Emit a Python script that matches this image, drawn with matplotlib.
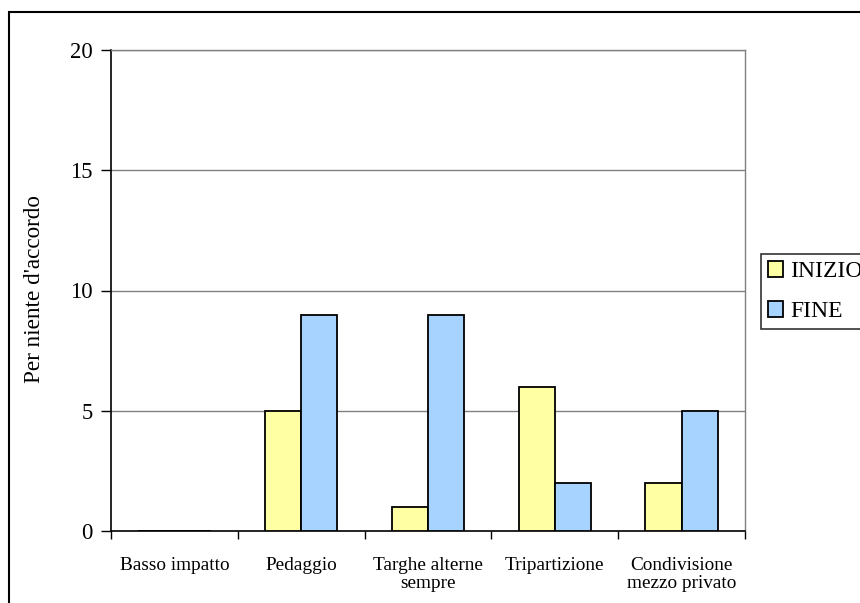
import matplotlib
matplotlib.use("Agg")
import matplotlib.pyplot as plt
import numpy as np
from matplotlib.patches import Rectangle, Patch

categories = ["Basso impatto", "Pedaggio", "Targhe alterne\nsempre",
              "Tripartizione", "Condivisione\nmezzo privato"]
inizio = [0, 5, 1, 6, 2]
fine = [0, 9, 9, 2, 5]
series_names = ["INIZIO", "FINE"]
y_ticks = [0, 5, 10, 15, 20]

col_inizio = "#FFFFA3"
col_fine = "#A6D3FF"

plt.rcParams["font.family"] = ["Liberation Serif", "DejaVu Serif"]

fig = plt.figure(figsize=(8.6, 6.03), dpi=100)
W, H = 860, 603
ax = fig.add_axes([111 / W, 1 - 531 / H, (745 - 111) / W, (531 - 50) / H])

x = np.arange(len(categories))
bw = 0.285
ax.bar(x - bw / 2, inizio, bw, color=col_inizio, edgecolor="black", linewidth=1.3, zorder=3)
ax.bar(x + bw / 2, fine, bw, color=col_fine, edgecolor="black", linewidth=1.3, zorder=3)

ax.set_xlim(-0.5, len(categories) - 0.5)
ax.set_ylim(0, 20)
ax.set_yticks(y_ticks)
ax.tick_params(axis="y", labelsize=16.3, length=7, width=1, direction="out", pad=6)
for v in y_ticks[1:]:
    ax.axhline(v, color="#808080", linewidth=1, zorder=1)

# category boundaries carry the tick marks, centres carry the labels
ax.set_xticks(np.arange(len(categories) + 1) - 0.5)
ax.set_xticklabels([])
ax.tick_params(axis="x", which="major", length=6, width=1, direction="out")
ax.set_xticks(x, minor=True)
ax.set_xticklabels(categories, minor=True, fontsize=13.9, linespacing=1.08)
ax.tick_params(axis="x", which="minor", length=0, pad=19)

for s in ["left", "bottom"]:
    ax.spines[s].set_color("black")
    ax.spines[s].set_linewidth(1.2)
for s in ["right", "top"]:
    ax.spines[s].set_color("#808080")
    ax.spines[s].set_linewidth(1)

ax.set_ylabel("Per niente d'accordo", fontsize=16.7)
ax.yaxis.set_label_coords((45 - 111) / (745 - 111), 1 - (289 - 50) / (531 - 50))

handles = [Patch(facecolor=col_inizio, edgecolor="black", linewidth=1.3),
           Patch(facecolor=col_fine, edgecolor="black", linewidth=1.3)]
leg = fig.legend(handles, series_names, loc="upper left",
                 bbox_to_anchor=(761 / W, 1 - 254 / H), fontsize=17,
                 frameon=True, fancybox=False, edgecolor="black",
                 handlelength=0.65, handleheight=0.65, handletextpad=0.3,
                 borderpad=0.3, labelspacing=0.8, borderaxespad=0)
leg.get_frame().set_linewidth(1.2)

fig.patches.append(Rectangle((9 / W, -0.1), 1.1, 1 - 12 / H + 0.1,
                             transform=fig.transFigure, fill=False,
                             edgecolor="black", linewidth=1.5))

fig.savefig("out.png", dpi=100, facecolor="white")
